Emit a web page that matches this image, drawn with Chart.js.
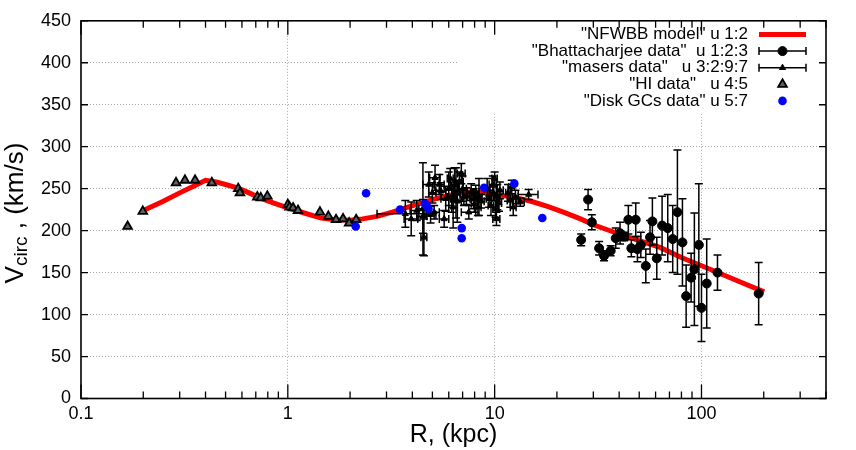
<!DOCTYPE html>
<html lang="en">
<head>
<meta charset="UTF-8">
<title>Milky Way rotation curve</title>
<script src="https://cdn.jsdelivr.net/npm/chart.js@4.4.1/dist/chart.umd.min.js"></script>
<style>
  body { margin: 0; background: #fff; }
</style>
</head>
<body>
<canvas id="rcChart" width="856" height="450"></canvas>
<script>
// NFWBB model curve (R in kpc, V in km/s)
const modelR = [0.2, 0.25, 0.3, 0.35, 0.4, 0.45, 0.5, 0.57, 0.65, 0.75, 0.85, 1.0, 1.2, 1.45, 1.7, 2.0, 2.3, 2.7, 3.2, 3.7, 4.3, 5.0, 6.0, 7.0, 8.0, 9.0, 10.2, 12.8, 15, 18, 21.5, 26, 30, 40, 50, 63, 80, 110, 150, 201];
const modelV = [224, 235, 245, 253, 260, 258, 255, 251, 245, 238, 233, 227, 221, 215, 213, 212.5, 214, 217, 222, 227, 232, 237, 242, 245, 246, 245, 243, 239, 235, 229, 222, 214, 207, 196, 188, 180, 168, 154, 140, 127];

// Bhattacharjee data: R, V, dV
const bhR   = [26.2, 28.3, 29.5, 32.0, 33.8, 36.4, 38.5, 40.4, 42.3, 44.3, 45.8, 48.1, 49.0, 50.9, 53.8, 56.4, 57.9, 60.8, 64.5, 68.7, 72.6, 76.5, 80.9, 84.3, 89.1, 92.4, 97.1, 100, 106, 119.5, 189];
const bhV   = [189, 237, 210, 179, 170, 176, 191, 197, 193, 213, 179, 213, 178, 183, 158, 192, 211, 167, 206, 203, 190, 222, 186, 122, 144, 154, 183, 108, 137, 150, 125];
const bhErr = [7, 12, 9, 8, 6, 6, 12, 13, 5, 17, 10, 20, 15, 15, 20, 20, 28, 25, 35, 40, 40, 74, 52, 37, 29, 67, 73, 40, 53, 21, 37];

// masers data: R, V, dR, dV
const maserR    = [3.7, 3.95, 4.2, 4.5, 4.5, 4.55, 4.8, 4.9, 5.0, 5.15, 5.1, 5.4, 5.5, 5.7, 5.8, 6.0, 6.1, 6.2, 6.3, 6.4, 6.5, 6.6, 6.75, 6.9, 7.0, 7.1, 7.3, 7.5, 7.7, 7.9, 8.0, 8.1, 8.3, 8.4, 8.6, 9.2, 9.4, 9.6, 9.8, 9.9, 10.0, 10.1, 10.2, 10.3, 10.5, 10.6, 11.6, 11.9, 12.1, 12.3, 12.6, 13.3, 14.6];
const maserV    = [220, 214, 224, 217, 226, 192, 255, 219, 245, 263, 222, 255, 247, 214, 238, 250, 262, 240, 228, 255, 245, 235, 258, 268, 250, 240, 241, 222, 246, 238, 232, 246, 228, 240, 235, 250, 238, 230, 255, 244, 262, 226, 214, 240, 233, 248, 245, 236, 252, 228, 240, 234, 243];
const maserRErr = [1.0, 0.3, 0.3, 0.2, 0.2, 0.15, 0.3, 0.3, 0.2, 0.3, 0.3, 0.3, 0.3, 0.3, 0.3, 0.3, 0.2, 0.3, 0.3, 0.3, 0.3, 0.3, 0.3, 0.3, 0.3, 0.3, 0.3, 0.6, 0.3, 0.3, 0.3, 0.3, 0.3, 0.3, 0.3, 0.3, 0.3, 0.3, 0.4, 0.3, 0.3, 0.3, 0.4, 0.3, 0.3, 0.4, 0.3, 0.4, 0.4, 0.4, 0.4, 0.6, 1.6];
const maserVErr = [16, 20, 12, 20, 55, 22, 15, 10, 12, 15, 8, 12, 10, 10, 15, 20, 12, 18, 25, 20, 30, 25, 12, 12, 15, 10, 10, 8, 10, 12, 10, 8, 10, 22, 8, 12, 10, 12, 10, 8, 8, 10, 8, 15, 10, 10, 10, 8, 8, 10, 8, 5, 6];

// HI data
const hiR = [0.168, 0.199, 0.288, 0.318, 0.356, 0.429, 0.576, 0.587, 0.712, 0.74, 0.796, 1.0, 1.02, 1.06, 1.12, 1.43, 1.57, 1.71, 1.85, 1.98, 2.14];
const hiV = [205, 223, 257, 260, 260, 257, 250, 245, 240, 239, 241, 231, 228, 227, 224, 222, 217, 213, 214, 209, 213];

// Disk GCs data
const gcR = [2.13, 2.39, 3.49, 4.6, 4.7, 4.79, 6.93, 6.93, 8.89, 12.45, 17.0];
const gcV = [205, 244.5, 225, 232, 229.5, 226, 203, 191, 251, 256, 215];

// axes
const xMajorTicks = [0.1, 1, 10, 100];
const xMajorLabels = ['0.1', '1', '10', '100'];
const yTicks = [0, 50, 100, 150, 200, 250, 300, 350, 400, 450];

const legendLabels = [
  '"NFWBB model" u 1:2',
  '"Bhattacharjee data"  u 1:2:3',
  '"masers data"   u 3:2:9:7',
  '"HI data"   u 4:5',
  '"Disk GCs data" u 5:7'
];

const FONT = '"Liberation Sans", Arial, Helvetica, sans-serif';

function toPts(xs, ys) {
  return xs.map((x, i) => ({ x: x, y: ys[i] }));
}

// every tick position of the log axis: 1..9 times each decade
const xAllTicks = [];
xMajorTicks.forEach(d => {
  for (let k = 1; k <= 9; k++) {
    if (d * k <= 400) xAllTicks.push(k === 1 ? d : d * k);
  }
});

const CAP = 4;
const ERR_W = 1.5;

const errBars = {
  id: 'errBars',
  beforeDatasetDraw(chart, args) {
    const ds = chart.data.datasets[args.index];
    if (!ds.yErr) return;
    const xs = chart.scales.x, ys = chart.scales.y, ctx = chart.ctx;
    ctx.save();
    ctx.strokeStyle = '#000';
    ctx.lineWidth = ERR_W;
    ds.data.forEach((p, i) => {
      const px = xs.getPixelForValue(p.x), py = ys.getPixelForValue(p.y);
      const y1 = ys.getPixelForValue(p.y - ds.yErr[i]);
      const y2 = ys.getPixelForValue(p.y + ds.yErr[i]);
      ctx.beginPath();
      ctx.moveTo(px, y1); ctx.lineTo(px, y2);
      ctx.moveTo(px - CAP, y1); ctx.lineTo(px + CAP, y1);
      ctx.moveTo(px - CAP, y2); ctx.lineTo(px + CAP, y2);
      if (ds.xErr) {
        const x1 = xs.getPixelForValue(p.x - ds.xErr[i]);
        const x2 = xs.getPixelForValue(p.x + ds.xErr[i]);
        ctx.moveTo(x1, py); ctx.lineTo(x2, py);
        ctx.moveTo(x1, py - CAP); ctx.lineTo(x1, py + CAP);
        ctx.moveTo(x2, py - CAP); ctx.lineTo(x2, py + CAP);
      }
      ctx.stroke();
    });
    ctx.restore();
  }
};

// opaque key box, under the data but over the grid
const KEY_BOX = { left: 458, bottom: 112 };
const keyBox = {
  id: 'keyBox',
  beforeDatasetsDraw(chart) {
    const a = chart.chartArea, ctx = chart.ctx;
    ctx.save();
    ctx.fillStyle = '#fff';
    ctx.fillRect(KEY_BOX.left, a.top, a.right - KEY_BOX.left, KEY_BOX.bottom - a.top);
    ctx.restore();
  }
};

const frame = {
  id: 'frame',
  afterDraw(chart) {
    const a = chart.chartArea, ctx = chart.ctx;
    const xs = chart.scales.x, ys = chart.scales.y;
    ctx.save();
    ctx.strokeStyle = '#000';
    ctx.lineWidth = 1.3;
    ctx.beginPath();
    xAllTicks.forEach(v => {
      const px = xs.getPixelForValue(v);
      const len = xMajorTicks.includes(v) ? 14 : 7;
      ctx.moveTo(px, a.bottom); ctx.lineTo(px, a.bottom - len);
      ctx.moveTo(px, a.top); ctx.lineTo(px, a.top + len);
    });
    yTicks.forEach(v => {
      const py = ys.getPixelForValue(v);
      ctx.moveTo(a.left, py); ctx.lineTo(a.left + 7, py);
      ctx.moveTo(a.right, py); ctx.lineTo(a.right - 7, py);
    });
    ctx.stroke();
    ctx.lineWidth = 1.6;
    ctx.strokeRect(a.left, a.top, a.right - a.left, a.bottom - a.top);

    // key
    const ds = chart.data.datasets;
    const textRight = 748, s1 = 759, s2 = 806, sm = 782.5;
    ctx.font = '17px ' + FONT;
    ctx.textAlign = 'right';
    ctx.textBaseline = 'middle';
    legendLabels.forEach((lab, i) => {
      const y = 34.5 + i * 16.6;
      ctx.fillStyle = '#000';
      ctx.fillText(lab, textRight, y);
      const d = ds[i];
      if (i === 0) {
        ctx.strokeStyle = d.borderColor;
        ctx.lineWidth = d.borderWidth;
        ctx.beginPath(); ctx.moveTo(s1, y); ctx.lineTo(s2, y); ctx.stroke();
        return;
      }
      if (d.yErr) {
        ctx.strokeStyle = '#000';
        ctx.lineWidth = ERR_W;
        ctx.beginPath();
        ctx.moveTo(s1, y); ctx.lineTo(s2, y);
        ctx.moveTo(s1, y - CAP); ctx.lineTo(s1, y + CAP);
        ctx.moveTo(s2, y - CAP); ctx.lineTo(s2, y + CAP);
        ctx.stroke();
      }
      ctx.fillStyle = d.backgroundColor;
      ctx.strokeStyle = d.borderColor;
      ctx.lineWidth = d.pointBorderWidth;
      Chart.helpers.drawPoint(ctx, {
        pointStyle: d.pointStyle, radius: d.pointRadius,
        borderWidth: d.pointBorderWidth, rotation: 0
      }, sm, y);
    });

    // y axis title with subscript
    ctx.save();
    ctx.translate(16, 213);
    ctx.rotate(-Math.PI / 2);
    ctx.textAlign = 'left';
    ctx.textBaseline = 'middle';
    ctx.fillStyle = '#000';
    const big = '26px ' + FONT, small = '19px ' + FONT;
    ctx.font = big; const wV = ctx.measureText('V').width;
    const rest = ' , (km/s)'; const wR = ctx.measureText(rest).width;
    ctx.font = small; const wS = ctx.measureText('circ').width;
    let x0 = -(wV + wS + wR) / 2;
    ctx.font = big; ctx.fillText('V', x0, 0);
    ctx.font = small; ctx.fillText('circ', x0 + wV, 6);
    ctx.font = big; ctx.fillText(rest, x0 + wV + wS, 0);
    ctx.restore();
    ctx.restore();
  }
};

new Chart(document.getElementById('rcChart'), {
  type: 'scatter',
  data: {
    datasets: [
      {
        label: 'NFWBB model', data: toPts(modelR, modelV), showLine: true,
        borderColor: '#ff0000', backgroundColor: '#ff0000', borderWidth: 5,
        pointRadius: 0, tension: 0, order: 5
      },
      {
        label: 'Bhattacharjee data', data: toPts(bhR, bhV), yErr: bhErr,
        pointStyle: 'circle', pointRadius: 4.5, pointBorderWidth: 1,
        backgroundColor: '#000', borderColor: '#000', order: 4
      },
      {
        label: 'masers data', data: toPts(maserR, maserV), yErr: maserVErr, xErr: maserRErr,
        pointStyle: 'triangle', pointRadius: 3.5, pointBorderWidth: 1,
        backgroundColor: '#000', borderColor: '#000', order: 3
      },
      {
        label: 'HI data', data: toPts(hiR, hiV),
        pointStyle: 'triangle', pointRadius: 5, pointBorderWidth: 1.8,
        backgroundColor: '#606060', borderColor: '#000', order: 2
      },
      {
        label: 'Disk GCs data', data: toPts(gcR, gcV),
        pointStyle: 'circle', pointRadius: 4.3, pointBorderWidth: 0,
        backgroundColor: '#0000ff', borderColor: '#0000ff', order: 1
      }
    ]
  },
  options: {
    responsive: false,
    animation: false,
    layout: { padding: { top: 19, right: 30, left: 0, bottom: 0 } },
    plugins: { legend: { display: false }, tooltip: { enabled: false } },
    scales: {
      x: {
        type: 'logarithmic', min: 0.1, max: 400,
        afterFit: s => { s.height = 51.5; },
        afterBuildTicks: s => { s.ticks = xAllTicks.map(v => ({ value: v })); },
        ticks: {
          autoSkip: false, maxRotation: 0, padding: 5,
          color: '#000', font: { family: FONT, size: 18 },
          callback: v => {
            const i = xMajorTicks.indexOf(v);
            return i >= 0 ? xMajorLabels[i] : '';
          }
        },
        grid: {
          drawTicks: false, lineWidth: 1,
          color: c => (c.tick && xMajorTicks.includes(c.tick.value) && c.tick.value !== 0.1) ? '#a8a8a8' : 'rgba(0,0,0,0)'
        },
        border: { display: false, dash: [1, 2] },
        title: { display: true, text: 'R, (kpc)', color: '#000', font: { family: FONT, size: 25 }, padding: 0 }
      },
      y: {
        type: 'linear', min: 0, max: 450,
        afterFit: s => { s.width = 81; },
        afterBuildTicks: s => { s.ticks = yTicks.map(v => ({ value: v })); },
        ticks: { padding: 10, color: '#000', font: { family: FONT, size: 18 } },
        grid: {
          drawTicks: false, lineWidth: 1,
          color: c => (c.tick && c.tick.value > 0 && c.tick.value < 450) ? '#a8a8a8' : 'rgba(0,0,0,0)'
        },
        border: { display: false, dash: [1, 2] }
      }
    }
  },
  plugins: [errBars, keyBox, frame]
});
</script>
</body>
</html>
